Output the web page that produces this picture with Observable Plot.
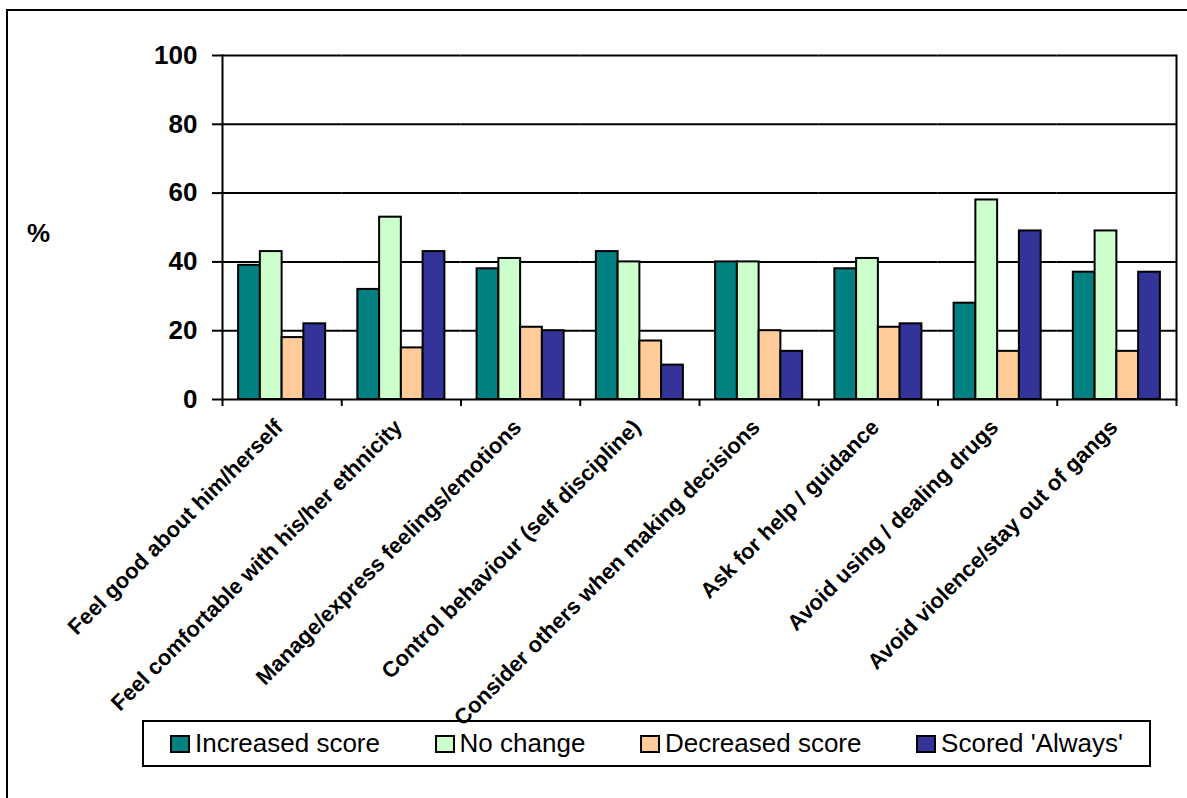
<!DOCTYPE html>
<html>
<head>
<meta charset="utf-8">
<script src="https://cdn.jsdelivr.net/npm/d3@7"></script>
<script src="https://cdn.jsdelivr.net/npm/@observablehq/plot@0.6"></script>
<style>
  html, body { margin: 0; padding: 0; overflow: hidden; background: #fff; }
  body { width: 1187px; height: 798px; font-family: "Liberation Sans", Arial, sans-serif; }
  #frame { position: absolute; left: 6px; top: 9px; width: 1400px; height: 1000px; border: 2px solid #000; box-sizing: border-box; }
  #chart svg { display: block; overflow: visible; }
  #ylabel { position: absolute; left: 19px; top: 209px; font-size: 26px; font-weight: bold; line-height: 1; color: #000; }
  #legend { margin-left: 134px; margin-top: 1px; width: 1009px; height: 47px; box-sizing: border-box; border: 2px solid #000;
            display: flex; align-items: center; justify-content: space-between; padding: 0 26px; font-size: 26px; color: #000; }
  .item { display: flex; align-items: center; white-space: nowrap; }
  .swatch { width: 16px; height: 14px; border: 2px solid #000; margin-right: 5px; }
</style>
</head>
<body>
<div id="frame">
  <div id="chart"></div>
  <div id="ylabel">%</div>
  <div id="legend"></div>
</div>
<script>
const categories = [
  "Feel good about him/herself",
  "Feel comfortable with his/her ethnicity",
  "Manage/express feelings/emotions",
  "Control behaviour (self discipline)",
  "Consider others when making decisions",
  "Ask for help / guidance",
  "Avoid using / dealing drugs",
  "Avoid violence/stay out of gangs"
];
const series = ["Increased score", "No change", "Decreased score", "Scored 'Always'"];
const colors = ["#008080", "#CCFFCC", "#FFCC99", "#333399"];
const increased = [39, 32, 38, 43, 40, 38, 28, 37];
const noChange  = [43, 53, 41, 40, 40, 41, 58, 49];
const decreased = [18, 15, 21, 17, 20, 21, 14, 14];
const always    = [22, 43, 20, 10, 14, 22, 49, 37];
const yTicks = [0, 20, 40, 60, 80, 100];

const valuesBySeries = [increased, noChange, decreased, always];
const data = [];
categories.forEach((c, i) => series.forEach((s, k) => data.push({category: c, series: s, value: valuesBySeries[k][i]})));

const width = 1172, height = 708;
const marginLeft = 214, marginRight = 4, marginTop = 44, marginBottom = 320;
const facetW = (width - marginLeft - marginRight) / categories.length;
const font = "'Liberation Sans', Arial, sans-serif";

const chart = Plot.plot({
  width, height, marginLeft, marginRight, marginTop, marginBottom,
  style: {fontFamily: font, background: "transparent", color: "#000", overflow: "visible"},
  fx: {domain: categories, padding: 0, round: false},
  x: {domain: series, paddingInner: 0, paddingOuter: 0.74, round: false, axis: null},
  y: {domain: [0, 100], round: false},
  color: {domain: series, range: colors},
  marks: [
    Plot.gridY(yTicks, {stroke: "#000", strokeOpacity: 1, strokeWidth: 2}),
    Plot.barY(data, {fx: "category", x: "series", y: "value", fill: "series", stroke: "#000", strokeWidth: 2}),
    Plot.frame({anchor: "left", facetAnchor: "left", stroke: "#000", strokeWidth: 2}),
    Plot.frame({anchor: "right", facetAnchor: "right", stroke: "#000", strokeWidth: 2}),
    Plot.axisY({ticks: yTicks, tickSize: 10, tickPadding: 15, fontSize: 26, fontWeight: "bold", strokeWidth: 2, label: null}),
    Plot.axisFx({anchor: "bottom", tickSize: 7, tickFormat: () => "", dx: -facetW / 2, strokeWidth: 2, label: null}),
    Plot.axisFx({anchor: "bottom", ticks: [categories[categories.length - 1]], tickSize: 7, tickFormat: () => "", dx: facetW / 2, strokeWidth: 2, label: null}),
    Plot.text(categories, {fx: d => d, text: d => d, frameAnchor: "bottom", rotate: -45, textAnchor: "end", lineAnchor: "top",
      dx: -9, dy: 18, fontSize: 22, fontWeight: "bold", fill: "#000"})
  ]
});
document.getElementById("chart").appendChild(chart);

const legend = document.getElementById("legend");
series.forEach((s, k) => {
  const item = document.createElement("div");
  item.className = "item";
  const sw = document.createElement("span");
  sw.className = "swatch";
  sw.style.background = colors[k];
  const label = document.createElement("span");
  label.textContent = s;
  item.appendChild(sw);
  item.appendChild(label);
  legend.appendChild(item);
});
</script>
</body>
</html>
